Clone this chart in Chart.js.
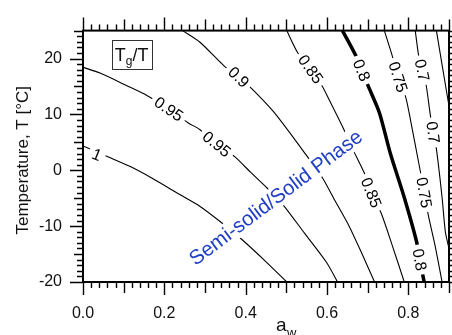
<!DOCTYPE html>
<html><head><meta charset="utf-8">
<script src="https://cdn.jsdelivr.net/npm/chart.js@4"></script>
<style>html,body{margin:0;padding:0;background:#fff;}canvas{display:block;}</style>
</head><body>
<canvas id="c" width="452" height="335"></canvas>
<script>
// Contours of Tg/T : x = water activity a_w, y = temperature T [°C]
const aw_100 = [0, 0.061, 0.115, 0.169, 0.238, 0.287, 0.341, 0.390, 0.447, 0.501];
const T_100  = [4.35, 2.43, 0.70, -1.39, -4.35, -6.43, -9.39, -12.35, -16.17, -20];
const aw_095 = [0, 0.042, 0.108, 0.157, 0.211, 0.258, 0.287, 0.329, 0.373, 0.412, 0.452, 0.491, 0.545, 0.599, 0.626];
const T_095  = [18.43, 17.39, 15.13, 13.39, 10.96, 8.52, 7.30, 4.70, 2.43, -0.35, -3.13, -6.09, -11.30, -16.52, -20];
const aw_090 = [0.245, 0.287, 0.348, 0.383, 0.415, 0.471, 0.550, 0.589, 0.618, 0.655, 0.685, 0.717];
const T_090  = [25, 22.96, 18.61, 16.70, 14.61, 10.26, 2.61, -1.39, -5.22, -10.09, -14.78, -20];
const aw_085 = [0.501, 0.528, 0.560, 0.589, 0.606, 0.638, 0.663, 0.692, 0.709, 0.734, 0.761, 0.790];
const T_085  = [25, 21.04, 18.09, 14.96, 12.52, 7.83, 3.83, -0.52, -4.0, -7.83, -13.57, -20];
const aw_080 = [0.638, 0.672, 0.685, 0.702, 0.729, 0.756, 0.790, 0.820, 0.828, 0.839];
const T_080  = [25, 20.35, 17.91, 14.96, 10.26, 2.96, -4.87, -12.70, -16.0, -20];
const aw_075 = [0.741, 0.761, 0.775, 0.793, 0.802, 0.829, 0.839, 0.849, 0.866, 0.883];
const T_075  = [25, 20.35, 16.70, 13.22, 10.26, 0, -3.65, -8, -13.57, -20];
const aw_070 = [0.817, 0.825, 0.834, 0.844, 0.854, 0.861, 0.869, 0.883, 0.891, 0.9];
const T_070  = [25, 20.70, 17.9, 15.13, 9.91, 6.78, 3.83, -4.87, -11.0, -14.0];
const aw_065 = [0.869, 0.896, 0.9];
const T_065  = [25, 13.2, 11.5];

// contour labels
const labelText = ['1', '0.95', '0.95', '0.9', '0.85', '0.85', '0.8', '0.8', '0.75', '0.75', '0.7', '0.7'];
const labelAw   = [0.034, 0.211, 0.329, 0.383, 0.560, 0.709, 0.685, 0.828, 0.775, 0.839, 0.834, 0.861];
const labelT    = [2.78, 10.96, 4.70, 16.70, 18.09, -4.0, 17.91, -16.0, 16.70, -4.0, 17.9, 6.78];
const labelAngle= [22, 34, 39, 44, 55, 68, 68, 80, 72, 80, 78, 82];

// axis ticks
const xTickLabels = [0.0, 0.2, 0.4, 0.6, 0.8];
const yTickLabels = [-20, -10, 0, 10, 20];

const FONT = '"Liberation Sans", Arial, Helvetica, sans-serif';
const mk = (xs, ys, w) => ({
  data: xs.map((v, i) => ({x: v, y: ys[i]})),
  showLine: true, borderColor: '#000', borderWidth: w, pointRadius: 0, tension: 0.25, fill: false
});

const overlay = {
  id: 'overlay',
  afterDatasetsDraw(chart) {
    const {ctx, scales: {x, y}} = chart;
    ctx.save();
    ctx.font = '16px ' + FONT;
    ctx.textAlign = 'center'; ctx.textBaseline = 'middle';
    labelText.forEach((t, i) => {
      const px = x.getPixelForValue(labelAw[i]), py = y.getPixelForValue(labelT[i]);
      ctx.save(); ctx.translate(px, py); ctx.rotate(labelAngle[i] * Math.PI / 180);
      const w = ctx.measureText(t).width;
      ctx.fillStyle = '#fff'; ctx.fillRect(-w / 2 - 4, -7, w + 8, 14);
      ctx.fillStyle = '#000'; ctx.fillText(t, 0, 1);
      ctx.restore();
    });
    // region label
    ctx.save();
    ctx.translate(x.getPixelForValue(0.474), y.getPixelForValue(-4.87));
    ctx.rotate(-37 * Math.PI / 180);
    ctx.font = '20.5px ' + FONT;
    const t2 = 'Semi-solid/Solid Phase';
    const w2 = ctx.measureText(t2).width;
    ctx.fillStyle = '#fff'; ctx.fillRect(-w2 / 2 - 3, -11, w2 + 6, 22);
    ctx.fillStyle = '#1f3fc4'; ctx.fillText(t2, 0, 1);
    ctx.restore();
    // legend box
    const bx0 = x.getPixelForValue(0.071), bx1 = x.getPixelForValue(0.169);
    const by0 = y.getPixelForValue(23.3), by1 = y.getPixelForValue(18.1);
    ctx.fillStyle = '#fff'; ctx.fillRect(bx0, by0, bx1 - bx0, by1 - by0);
    ctx.strokeStyle = '#333'; ctx.lineWidth = 1;
    ctx.strokeRect(Math.round(bx0) + 0.5, Math.round(by0) + 0.5, Math.round(bx1 - bx0), Math.round(by1 - by0));
    ctx.fillStyle = '#111'; ctx.textAlign = 'left'; ctx.textBaseline = 'alphabetic';
    ctx.font = '18px ' + FONT;
    let cx = bx0 + 3; const base = by0 + 21;
    ctx.fillText('T', cx, base); cx += ctx.measureText('T').width;
    ctx.font = '12px ' + FONT; ctx.fillText('g', cx, base + 4); cx += ctx.measureText('g').width;
    ctx.font = '18px ' + FONT; ctx.fillText('/T', cx, base);
    ctx.restore();
  },
  afterDraw(chart) {
    const {ctx, chartArea: a, scales: {x, y}} = chart;
    ctx.save();
    ctx.strokeStyle = '#000';
    ctx.lineWidth = 1.4;
    ctx.beginPath();
    for (let i = 0; i <= 45; i++) {
      const v = i * 0.02, px = Math.round(x.getPixelForValue(v)) + 0.5;
      const len = (i % 10 === 0) ? 13 : (i % 5 === 0 ? 11 : 6);
      ctx.moveTo(px, a.bottom); ctx.lineTo(px, a.bottom + len);
      ctx.moveTo(px, a.top); ctx.lineTo(px, a.top - len);
    }
    for (let t = -20; t <= 25; t++) {
      const py = Math.round(y.getPixelForValue(t)) + 0.5;
      const len = (t % 10 === 0) ? 13 : (t % 5 === 0 ? 9 : 6);
      ctx.moveTo(a.left, py); ctx.lineTo(a.left - len, py);
      ctx.moveTo(a.right, py); ctx.lineTo(a.right + len, py);
    }
    ctx.stroke();
    ctx.lineWidth = 2;
    ctx.strokeRect(a.left, a.top, a.right - a.left, a.bottom - a.top);
    // axis titles
    ctx.fillStyle = '#111';
    ctx.save();
    ctx.translate(23, (a.top + a.bottom) / 2 + 4);
    ctx.rotate(-Math.PI / 2);
    ctx.font = '17px ' + FONT; ctx.textAlign = 'center'; ctx.textBaseline = 'middle';
    ctx.fillText('Temperature, T [°C]', 0, 0);
    ctx.restore();
    ctx.font = '19px ' + FONT; ctx.textAlign = 'left'; ctx.textBaseline = 'alphabetic';
    const ax = (a.left + a.right) / 2 + 9;
    ctx.fillText('a', ax + 1, 331);
    ctx.font = '13px ' + FONT; ctx.fillText('w', ax + 12, 337);
    ctx.restore();
  }
};

new Chart(document.getElementById('c'), {
  type: 'scatter',
  data: { datasets: [
    mk(aw_100, T_100, 1.1), mk(aw_095, T_095, 1.1), mk(aw_090, T_090, 1.1), mk(aw_085, T_085, 1.1),
    mk(aw_080, T_080, 3.5), mk(aw_075, T_075, 1.1), mk(aw_070, T_070, 1.1), mk(aw_065, T_065, 1.1)
  ]},
  options: {
    responsive: false, animation: false, devicePixelRatio: 1,
    layout: { padding: { top: 24, right: 3, left: 0, bottom: 0 } },
    plugins: { legend: { display: false }, tooltip: { enabled: false } },
    scales: {
      x: {
        type: 'linear', position: 'bottom', min: 0, max: 0.9,
        afterFit: s => { s.height = 53; },
        grid: { display: false, drawTicks: false, tickLength: 0 }, border: { display: false },
        afterBuildTicks: s => { s.ticks = xTickLabels.map(v => ({value: v})); },
        ticks: { callback: v => Number(v).toFixed(1), font: { size: 16, family: FONT }, color: '#111', padding: 22, maxRotation: 0 }
      },
      y: {
        type: 'linear', min: -20, max: 25,
        afterFit: s => { s.width = 83; },
        grid: { display: false, drawTicks: false, tickLength: 0 }, border: { display: false },
        afterBuildTicks: s => { s.ticks = yTickLabels.map(v => ({value: v})); },
        ticks: { callback: v => String(v), font: { size: 16, family: FONT }, color: '#111', padding: 21 }
      }
    }
  },
  plugins: [overlay]
});
</script>
</body></html>
